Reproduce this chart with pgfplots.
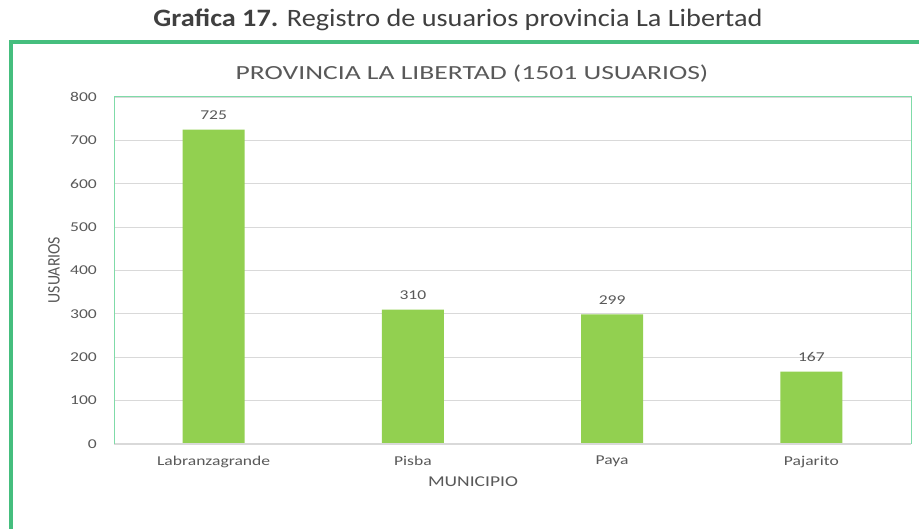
\documentclass[border=0pt]{standalone}
\usepackage{pgfplots}
\pgfplotsset{compat=1.18}
\usepackage{fontspec}
\setmainfont{Carlito}
\newfontfamily\titlefont[FakeStretch=1.13]{Carlito}
\newfontfamily\chartfont[FakeStretch=1.3]{Carlito}
\newfontfamily\ctitlefont[FakeStretch=1.38]{Carlito}
\newfontfamily\ylabfont[FakeStretch=0.9]{Carlito}
\definecolor{bargreen}{HTML}{92D050}
\definecolor{framegreen}{HTML}{45BE7E}
\definecolor{axgreen}{HTML}{7FDBA8}
\definecolor{gridgray}{HTML}{D9D9D9}
\definecolor{txtgray}{HTML}{595959}
\definecolor{titlegray}{HTML}{404040}
\begin{document}
\begin{tikzpicture}
\useasboundingbox (0pt,0pt) rectangle (919pt,529pt);
\fill[white] (0pt,0pt) rectangle (919pt,529pt);
\draw[gridgray, line width=1pt] (13pt,485pt) -- (919pt,485pt);
\draw[framegreen, line width=3.5pt] (11pt,0pt) -- (11pt,487pt) -- (919pt,487pt);
\node[font=\titlefont\fontsize{25}{29}\selectfont, text=titlegray] at (458pt,509pt) {\textbf{Grafica 17.} Registro de usuarios provincia La Libertad};
\node[font=\ctitlefont\fontsize{20}{24}\selectfont, text=txtgray] at (472pt,455pt) {PROVINCIA LA LIBERTAD (1501 USUARIOS)};
\begin{axis}[
  at={(114pt,85pt)}, anchor=south west,
  width=797pt, height=347pt, scale only axis,
  xmin=-0.5, xmax=3.5, ymin=0, ymax=800,
  ytick={0,100,...,800},
  xtick={0,1,2,3},
  xticklabels={Labranzagrande,Pisba,Paya,Pajarito},
  major tick length=0pt,
  axis line style={draw=none},
  ymajorgrids, grid style={gridgray, line width=0.8pt},
  ticklabel style={font=\chartfont\fontsize{13.5}{15}\selectfont, text=txtgray},
  yticklabel style={anchor=east, inner sep=0pt, xshift=-17pt},
  xticklabel style={anchor=north, inner sep=0pt, yshift=-12pt},
  /pgf/number format/assume math mode=true,
  xlabel={MUNICIPIO},
  ylabel={USUARIOS},
  every axis x label/.style={at={(rel axis cs:0.4504,0)}, anchor=center, yshift=-38pt, font=\chartfont\fontsize{15}{17}\selectfont, text=txtgray},
  every axis y label/.style={at={(rel axis cs:-0.0753,0.5014)}, anchor=center, rotate=90, font=\ylabfont\fontsize{17.5}{20}\selectfont, text=txtgray},
  nodes near coords,
  every node near coord/.append style={anchor=south, inner sep=0pt, yshift=10pt, font=\chartfont\fontsize{13.5}{15}\selectfont, text=txtgray},
  clip=false,
]
\addplot[ybar, bar width=62pt, fill=bargreen, draw=none] coordinates {(0,725) (1,310) (2,299) (3,167)};
\draw[gridgray, line width=1.2pt] (rel axis cs:0,0) -- (rel axis cs:1,0);
\draw[axgreen, line width=1pt] (rel axis cs:0,0) -- (rel axis cs:0,1) -- (rel axis cs:1,1) -- (rel axis cs:1,0);
\end{axis}
\end{tikzpicture}
\end{document}
